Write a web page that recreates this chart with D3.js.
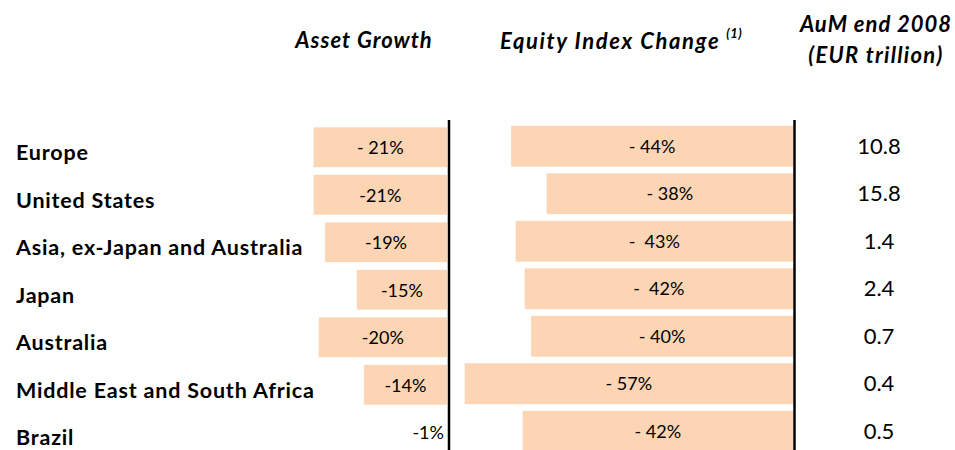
<!DOCTYPE html>
<html>
<head>
<meta charset="utf-8">
<script src="https://cdn.jsdelivr.net/npm/d3@7"></script>
<style>
body { margin: 0; background: #fff; }
text { font-family: Lato, "Open Sans", sans-serif; fill: #000; }
.region { font-size: 21.5px; font-weight: bold; letter-spacing: 0.8px; }
.head { font-size: 22px; font-weight: bold; font-style: italic; letter-spacing: 1px; }
.lbl { font-size: 18px; }
.aum { font-size: 22px; }
.bar { fill: #fcd5b4; }
.zero { stroke: #000; stroke-width: 2.5; }
</style>
</head>
<body>
<script>
const width = 955, height = 450;

const regions = ["Europe", "United States", "Asia, ex-Japan and Australia", "Japan",
    "Australia", "Middle East and South Africa", "Brazil"];
// bar lengths as drawn in the picture (the Brazil asset bar is not drawn)
const assetGrowth = [-21, -21, -19.2, -14.2, -20.2, -13.1, 0];
const assetLabels = ["- 21%", "-21%", "-19%", "-15%", "-20%", "-14%", "-1%"];
const equityChange = [-43.7, -38.2, -43, -41.6, -40.6, -50.9, -41.9];
const equityLabels = ["- 44%", "- 38%", "-  43%", "-  42%", "- 40%", "- 57%", "- 42%"];
const aum = ["10.8", "15.8", "1.4", "2.4", "0.7", "0.4", "0.5"];

const rows = regions.map((r, i) => ({
    region: r, asset: assetGrowth[i], assetLbl: assetLabels[i],
    equity: equityChange[i], equityLbl: equityLabels[i], aum: aum[i]
}));

const svg = d3.select("body").append("svg")
.attr("width", width)
.attr("height", height);

const scaleY = d3.scaleBand()
.domain(regions)
.range([122.5, 455])
.paddingInner(0.14)
.paddingOuter(0.07);

const scaleAsset = d3.scaleLinear()
.domain([-25, 0])
.range([447 - 25*6.35, 447]);

const scaleEquity = d3.scaleLinear()
.domain([-60, 0])
.range([793 - 60*6.45, 793]);

// row labels
svg.selectAll(".region")
.data(rows)
.enter()
.append("text")
.attr("class", "region")
.attr("x", 16)
.attr("y", (d) => scaleY(d.region) + scaleY.bandwidth()/2 + 14)
.text((d) => d.region);

// asset growth bars
const ga = svg.append("g");

ga.selectAll(".bar")
.data(rows.filter((d) => d.asset < 0))
.enter()
.append("rect")
.attr("class", "bar")
.attr("x", (d) => scaleAsset(d.asset))
.attr("y", (d) => scaleY(d.region) + 1.5)
.attr("width", (d) => scaleAsset(0) - scaleAsset(d.asset))
.attr("height", scaleY.bandwidth() - 1);

ga.selectAll(".lbl")
.data(rows)
.enter()
.append("text")
.attr("class", "lbl")
.attr("x", (d) => {
    const w = scaleAsset(0) - scaleAsset(d.asset);
    return w < 40 ? scaleAsset(0) - 3 : scaleAsset(d.asset) + w/2;
})
.attr("y", (d) => scaleY(d.region) + scaleY.bandwidth()/2 + 1.5)
.attr("dy", "0.35em")
.attr("text-anchor", (d) => (scaleAsset(0) - scaleAsset(d.asset)) < 40 ? "end" : "middle")
.text((d) => d.assetLbl);

ga.append("line")
.attr("class", "zero")
.attr("x1", scaleAsset(0) + 2)
.attr("x2", scaleAsset(0) + 2)
.attr("y1", 120)
.attr("y2", height);

// equity index bars
const ge = svg.append("g");

ge.selectAll(".bar")
.data(rows)
.enter()
.append("rect")
.attr("class", "bar")
.attr("x", (d) => scaleEquity(d.equity))
.attr("y", (d) => scaleY(d.region))
.attr("width", (d) => scaleEquity(0) - scaleEquity(d.equity))
.attr("height", scaleY.bandwidth());

ge.selectAll(".lbl")
.data(rows)
.enter()
.append("text")
.attr("class", "lbl")
.attr("x", (d) => (scaleEquity(d.equity) + scaleEquity(0))/2)
.attr("y", (d) => scaleY(d.region) + scaleY.bandwidth()/2)
.attr("dy", "0.35em")
.attr("text-anchor", "middle")
.style("white-space", "pre")
.text((d) => d.equityLbl);

ge.append("line")
.attr("class", "zero")
.attr("x1", scaleEquity(0) + 1.5)
.attr("x2", scaleEquity(0) + 1.5)
.attr("y1", 120)
.attr("y2", height);

// AuM column
svg.selectAll(".aum")
.data(rows)
.enter()
.append("text")
.attr("class", "aum")
.attr("x", 879)
.attr("y", (d) => scaleY(d.region) + scaleY.bandwidth()/2 + 7.5)
.attr("text-anchor", "middle")
.text((d) => d.aum);

// column headings
svg.append("text")
.attr("class", "head")
.attr("x", 364)
.attr("y", 48)
.attr("text-anchor", "middle")
.text("Asset Growth");

const eq = svg.append("text")
.attr("class", "head")
.attr("x", 500)
.attr("y", 49)
.style("letter-spacing", "1.6px");
eq.append("tspan").text("Equity Index Change");
eq.append("tspan")
.attr("dx", 6)
.attr("dy", -11)
.style("font-size", "13px")
.style("letter-spacing", "0.5px")
.text("(1)");

svg.append("text")
.attr("class", "head")
.attr("x", 876)
.attr("y", 32)
.attr("text-anchor", "middle")
.text("AuM end 2008");

svg.append("text")
.attr("class", "head")
.attr("x", 876)
.attr("y", 63)
.attr("text-anchor", "middle")
.style("letter-spacing", "1.3px")
.text("(EUR trillion)");
</script>
</body>
</html>
